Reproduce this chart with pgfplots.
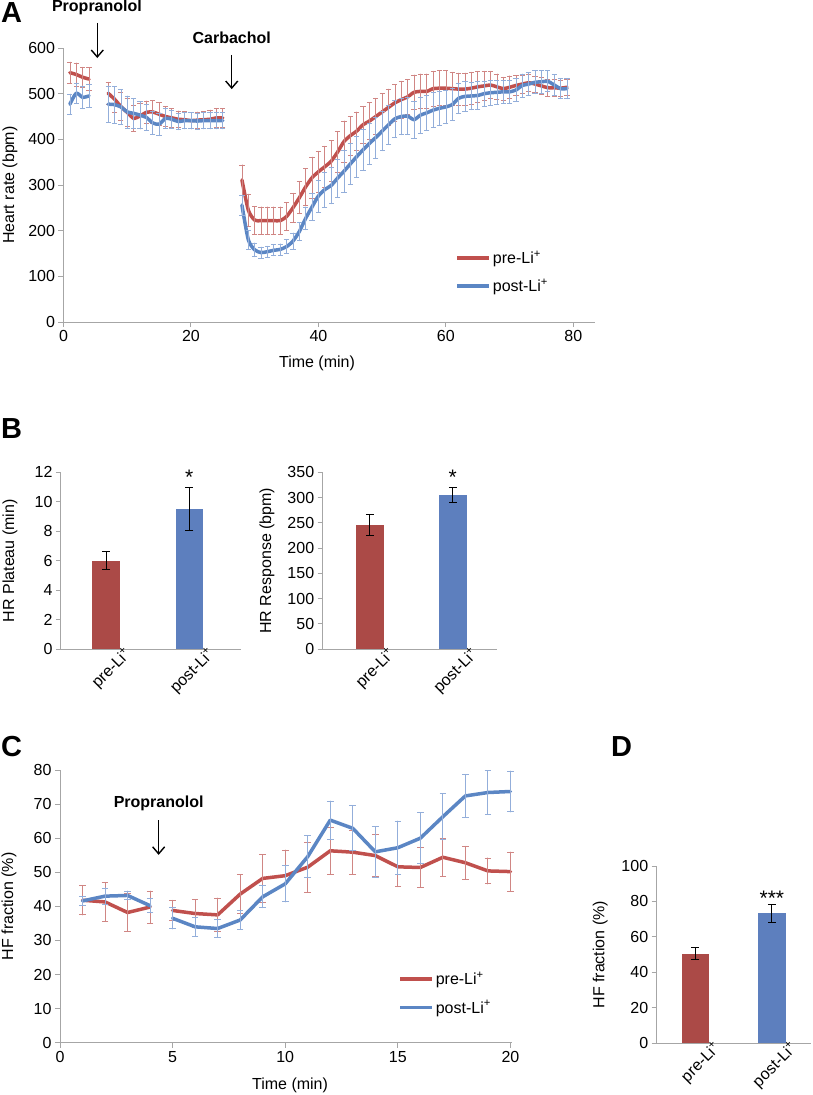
\documentclass[border=0pt]{standalone}
\usepackage{fontspec}
\setmainfont{Liberation Sans}
\usepackage{pgfplots}
\pgfplotsset{compat=1.18}
\usepackage{pgfplotstable}
\usetikzlibrary{arrows.meta}
\definecolor{lred}{HTML}{C0504D}
\definecolor{lblue}{HTML}{5B86C4}
\definecolor{elred}{HTML}{D08684}
\definecolor{elblue}{HTML}{93AEDA}
\definecolor{bred}{HTML}{AB4A47}
\definecolor{bblue}{HTML}{5D7FBE}
\definecolor{axgray}{HTML}{A6A6A6}
\newcommand{\fs}{\fontsize{16}{19}\selectfont}
\newcommand{\pre}{pre-Li\textsuperscript{+}}
\newcommand{\post}{post-Li\textsuperscript{+}}

\pgfplotstableread{
t v e
1 546 23
2 542 25
3 536 22
4 532 25
7 501 24
8 488 28
9 472 30
10 459 30
11 446 28
12 451 28
13 459 25
14 460 25
15 455 25
16 450 22
17 447 20
18 444 18
19 443 18
20 441 18
21 442 18
22 443 18
23 444 20
24 447 20
25 447 20
28 311 33
29 245 35
30 223 30
31 222 30
32 222 30
33 222 30
34 222 30
35 231 30
36 250 32
37 272 35
38 296 40
39 316 45
40 329 45
41 340 45
42 352 45
43 372 45
44 395 45
45 408 42
46 418 42
47 432 40
48 440 40
49 450 40
50 460 40
51 470 40
52 480 40
53 487 40
54 493 38
55 503 38
56 505 38
57 505 38
58 511 38
59 512 38
60 512 38
61 511 36
62 510 35
63 510 35
64 512 35
65 515 33
66 517 32
67 519 30
68 515 28
69 511 25
70 514 25
71 518 22
72 521 20
73 524 18
74 521 18
75 517 18
76 513 18
77 513 18
78 512 18
79 514 18
}\hrpre

\pgfplotstableread{
t v e
1 477 22
2 501 22
3 492 25
4 495 25
7 477 40
8 476 40
9 471 38
10 460 35
11 457 32
12 453 30
13 448 28
14 436 25
15 433 25
16 446 22
17 444 20
18 439 18
19 441 18
20 441 18
21 440 18
22 441 18
23 441 18
24 441 18
25 441 18
28 256 22
29 180 20
30 158 15
31 152 12
32 154 12
33 157 12
34 159 12
35 165 15
36 177 18
37 198 20
38 227 25
39 252 30
40 276 35
41 290 38
42 299 40
43 315 42
44 330 45
45 346 45
46 362 45
47 377 45
48 391 45
49 404 45
50 418 43
51 432 42
52 445 40
53 450 40
54 451 40
55 443 40
56 453 40
57 458 38
58 464 38
59 468 38
60 471 37
61 476 35
62 490 33
63 494 32
64 495 30
65 496 30
66 500 28
67 502 27
68 503 26
69 504 25
70 504 25
71 508 25
72 518 25
73 521 25
74 525 25
75 526 25
76 527 23
77 519 23
78 511 22
79 511 22
}\hrpost

\pgfplotstableread{
t v e
1 41.8 4.3
2 41.3 5.7
3 38.2 5.5
4 39.8 4.7
5 38.8 3.0
6 37.9 4.0
7 37.5 4.9
8 43.6 5.7
9 48.2 7.0
10 49.0 7.5
11 51.5 7.3
12 56.3 6.8
13 55.9 6.5
14 54.9 6.2
15 51.6 5.8
16 51.4 5.8
17 54.4 5.5
18 52.8 4.8
19 50.4 3.8
20 50.2 5.7
}\hfpre

\pgfplotstableread{
t v e
1 41.6 1.3
2 43.0 2.4
3 43.2 1.3
4 40.2 2.0
5 36.5 3.1
6 34.0 2.7
7 33.5 2.6
8 36.0 2.7
9 42.8 3.2
10 46.6 5.3
11 54.6 6.1
12 65.3 5.6
13 62.9 6.6
14 56.0 7.4
15 57.2 7.8
16 60.0 7.5
17 66.3 6.8
18 72.4 6.3
19 73.4 6.4
20 73.7 6.0
}\hfpost

\pgfplotsset{
  excel/.style={
    scale only axis, clip=false,
    axis x line*=bottom, axis y line*=left,
    axis line style={draw=axgray, line width=1pt, -},
    tick style={draw=axgray, line width=1pt},
    tick align=outside, major tick length=5pt,
    ticklabel style={font=\fs},
    label style={font=\fs},
    /pgf/number format/assume math mode=true,
    legend style={font=\fs},
  },
  hrline/.style={smooth, tension=0.4, line width=3.5pt, line join=round, line cap=round, color=#1,
    error bars/y dir=both, error bars/y explicit,
    error bars/error bar style={line width=0.7pt, draw=e#1},
    error bars/error mark options={rotate=90, mark size=2.6pt, line width=0.7pt, draw=e#1}},
  hfline/.style={line width=3.5pt, line join=round, line cap=round, color=#1,
    error bars/y dir=both, error bars/y explicit,
    error bars/error bar style={line width=0.9pt, draw=e#1},
    error bars/error mark options={rotate=90, mark size=3.3pt, line width=0.9pt, draw=e#1}},
  excelbar/.style={ybar, bar shift=0pt, fill=#1, draw=none,
    error bars/y dir=both, error bars/y explicit,
    error bars/error bar style={line width=1pt, black},
    error bars/error mark options={rotate=90, mark size=4pt, line width=1pt, black}},
  barax/.style={excel, xtick={0,1}, xticklabels={\pre,\post}, xtick style={draw=none},
    xticklabel style={rotate=45, anchor=north east, inner sep=0pt, xshift=18pt, yshift=-6pt},
    ymin=0},
  lgd/.style={legend style={draw=none, fill=none, inner sep=0pt, row sep=10pt, font=\fs,
      at={#1}, anchor=north west},
    legend cell align=left,
    legend image code/.code={\draw[##1, line cap=butt] (0pt,0pt) -- (32pt,0pt);}},
}

\begin{document}
\begin{tikzpicture}
\path[use as bounding box] (0,0) rectangle (812pt,-1095pt);

% panel letters
\node[anchor=base west, inner sep=0pt, font=\fontsize{29}{32}\selectfont\bfseries] at (1pt,-22.5pt) {A};
\node[anchor=base west, inner sep=0pt, font=\fontsize{29}{32}\selectfont\bfseries] at (1pt,-438pt) {B};
\node[anchor=base west, inner sep=0pt, font=\fontsize{29}{32}\selectfont\bfseries] at (1pt,-756pt) {C};
\node[anchor=base west, inner sep=0pt, font=\fontsize{29}{32}\selectfont\bfseries] at (611pt,-756pt) {D};

% ---------------- A ----------------
\begin{axis}[excel, at={(63.5pt,-322pt)}, anchor=south west,
  width=531.5pt, height=274pt, xmin=0, xmax=83.4, ymin=0, ymax=600,
  xtick={0,20,...,80}, ytick={0,100,...,600},
  xlabel={Time (min)}, ylabel={Heart rate (bpm)},
  xlabel style={at={(axis description cs:0.477,-0.15)}, anchor=center},
  ylabel style={at={(axis description cs:-0.1007,0.5)}, anchor=center},
  lgd={(axis description cs:0.737,0.268)}]
\addlegendimage{line width=3.5pt, lred}
\addlegendentry{\pre}
\addlegendimage{line width=3.5pt, lblue}
\addlegendentry{\post}
\addplot[hrline=lred, restrict x to domain=0:5, forget plot] table[x=t,y=v,y error=e] {\hrpre};
\addplot[hrline=lred, restrict x to domain=6:26, forget plot] table[x=t,y=v,y error=e] {\hrpre};
\addplot[hrline=lred, restrict x to domain=27:80, forget plot] table[x=t,y=v,y error=e] {\hrpre};
\addplot[hrline=lblue, restrict x to domain=0:5, forget plot] table[x=t,y=v,y error=e] {\hrpost};
\addplot[hrline=lblue, restrict x to domain=6:26, forget plot] table[x=t,y=v,y error=e] {\hrpost};
\addplot[hrline=lblue, restrict x to domain=27:80, forget plot] table[x=t,y=v,y error=e] {\hrpost};
\node[font=\fs\bfseries] at (axis cs:5.25,689) {Propranolol};
\draw[-{Straight Barb[length=7pt,width=12pt]}, line width=1.4pt] (axis cs:5.3,655) -- (axis cs:5.3,578);
\node[font=\fs\bfseries] at (axis cs:26.4,622) {Carbachol};
\draw[-{Straight Barb[length=7pt,width=12pt]}, line width=1.4pt] (axis cs:26.4,585) -- (axis cs:26.4,510);
\end{axis}

% ---------------- B left ----------------
\begin{axis}[barax, at={(61pt,-649pt)}, anchor=south west,
  width=180pt, height=176.7pt, xmin=-0.54, xmax=1.62, ymax=12,
  ytick={0,2,...,12}, ylabel={HR Plateau (min)},
  ylabel style={at={(axis description cs:-0.283,0.5)}, anchor=center}]
\addplot[excelbar=bred, bar width=27.5pt] coordinates {(0,6.0) +- (0,0.6)};
\addplot[excelbar=bblue, bar width=27.5pt] coordinates {(1,9.5) +- (0,1.45)};
\node[font=\fontsize{21}{24}\selectfont, anchor=base] at (axis cs:1,11.15) {*};
\end{axis}

% ---------------- B right ----------------
\begin{axis}[barax, at={(322.7pt,-649pt)}, anchor=south west,
  width=174pt, height=176.7pt, xmin=-0.57, xmax=1.53, ymax=350,
  ytick={0,50,...,350}, ylabel={HR Response (bpm)},
  ylabel style={at={(axis description cs:-0.32,0.5)}, anchor=center}]
\addplot[excelbar=bred, bar width=28pt] coordinates {(0,245) +- (0,21)};
\addplot[excelbar=bblue, bar width=28pt] coordinates {(1,305) +- (0,14)};
\node[font=\fontsize{21}{24}\selectfont, anchor=base] at (axis cs:1,325) {*};
\end{axis}

% ---------------- C ----------------
\begin{axis}[excel, at={(60pt,-1042.7pt)}, anchor=south west,
  width=452pt, height=272.7pt, xmin=0, xmax=20.07, ymin=0, ymax=80,
  xtick={0,5,...,20}, ytick={0,10,...,80},
  xlabel={Time (min)}, ylabel={HF fraction (\%)},
  xlabel style={at={(axis description cs:0.509,-0.155)}, anchor=center},
  ylabel style={at={(axis description cs:-0.113,0.5)}, anchor=center},
  lgd={(axis description cs:0.748,0.267)}]
\addlegendimage{line width=3.5pt, lred}
\addlegendentry{\pre}
\addlegendimage{line width=3.5pt, lblue}
\addlegendentry{\post}
\addplot[hfline=lred, restrict x to domain=0:4.5, forget plot] table[x=t,y=v,y error=e] {\hfpre};
\addplot[hfline=lred, restrict x to domain=4.5:21, forget plot] table[x=t,y=v,y error=e] {\hfpre};
\addplot[hfline=lblue, restrict x to domain=0:4.5, forget plot] table[x=t,y=v,y error=e] {\hfpost};
\addplot[hfline=lblue, restrict x to domain=4.5:21, forget plot] table[x=t,y=v,y error=e] {\hfpost};
\node[font=\fs\bfseries] at (axis cs:4.38,70.3) {Propranolol};
\draw[-{Straight Barb[length=7pt,width=12pt]}, line width=1.4pt] (axis cs:4.38,65.3) -- (axis cs:4.38,55.1);
\end{axis}

% ---------------- D ----------------
\begin{axis}[barax, at={(656.7pt,-1043.3pt)}, anchor=south west,
  width=154.3pt, height=177.3pt, xmin=-0.503, xmax=1.51, ymax=100,
  ytick={0,20,...,100}, ylabel={HF fraction (\%)},
  ylabel style={at={(axis description cs:-0.366,0.5)}, anchor=center}]
\addplot[excelbar=bred, bar width=27.3pt] coordinates {(0,50.6) +- (0,3.3)};
\addplot[excelbar=bblue, bar width=27.3pt] coordinates {(1,73.3) +- (0,5.0)};
\node[font=\fontsize{21}{24}\selectfont, anchor=base] at (axis cs:1,78) {***};
\end{axis}
\end{tikzpicture}
\end{document}
